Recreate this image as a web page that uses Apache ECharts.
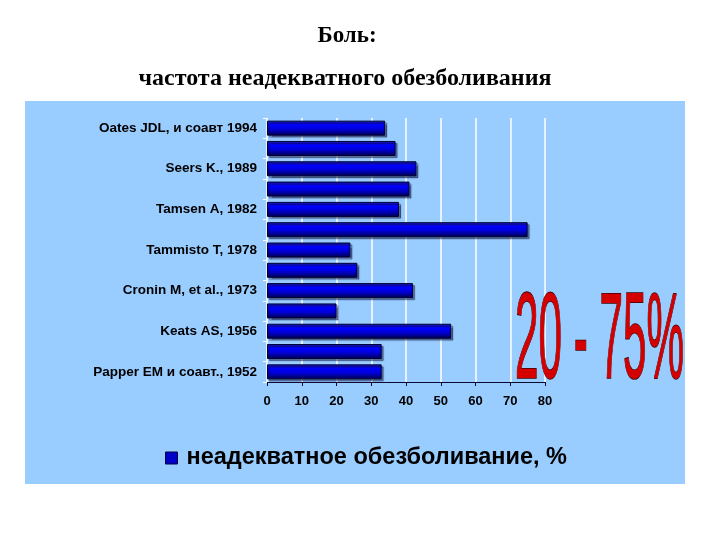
<!DOCTYPE html>
<html><head><meta charset="utf-8">
<script src="https://cdn.jsdelivr.net/npm/echarts@6/dist/echarts.min.js"></script>
<style>html,body{margin:0;padding:0;background:#fff}#c{width:720px;height:540px}</style>
</head><body><div id="c"></div>
<script>
var titleLine1 = 'Боль:';
var titleLine2 = 'частота неадекватного обезболивания';
var seriesName = 'неадекватное обезболивание, %';
var categories = ['Oates JDL, и соавт 1994', '', 'Seers K., 1989', '', 'Tamsen A, 1982', '', 'Tammisto T, 1978', '', 'Cronin M, et al., 1973', '', 'Keats AS, 1956', '', 'Papper EM и соавт., 1952'];
var values = [34, 37, 43, 41, 38, 75, 24, 26, 42, 20, 53, 33, 33];
var xTicks = [0, 10, 20, 30, 40, 50, 60, 70, 80];
var rangeText = '20 - 75%';

var chart = echarts.init(document.getElementById('c'), null, {renderer: 'canvas'});
var barGrad = new echarts.graphic.LinearGradient(0, 0, 0, 1, [
  {offset: 0, color: '#1a1aa8'},
  {offset: 0.3, color: '#0000ff'},
  {offset: 0.6, color: '#0000d0'},
  {offset: 1, color: '#000048'}
]);
chart.setOption({
  backgroundColor: '#ffffff',
  animation: false,
  graphic: [
    {type: 'rect', z: -10, silent: true, shape: {x: 25, y: 101, width: 660, height: 383}, style: {fill: '#99ccff'}},
    {type: 'text', z: 10, x: 347, y: 36, style: {text: titleLine1, font: 'bold 23px "Liberation Serif"', fill: '#000', align: 'center', verticalAlign: 'middle'}},
    {type: 'text', z: 10, x: 345, y: 79, style: {text: titleLine2, font: 'bold 24px "Liberation Serif"', fill: '#000', align: 'center', verticalAlign: 'middle'}},
    {type: 'text', z: 20, x: 515, y: 344, scaleX: 0.66, scaleY: 1.9,
      style: {text: rangeText, font: '64px "Liberation Sans"', align: 'left', verticalAlign: 'middle',
        fill: '#d40000', stroke: '#3a0000', lineWidth: 0.8}}
  ],
  legend: {
    left: 160, top: 441,
    icon: 'rect', itemWidth: 12, itemHeight: 12,
    textStyle: {fontFamily: '"Liberation Sans"', fontWeight: 'bold', fontSize: 23.5, color: '#000', padding: [0, 0, 0, 4]},
    data: [{name: seriesName, itemStyle: {color: '#0000c8', borderColor: '#000040', borderWidth: 1}}]
  },
  grid: {left: 267, right: 175, top: 118, bottom: 158, containLabel: false},
  xAxis: {
    type: 'value', min: xTicks[0], max: xTicks[xTicks.length - 1], interval: 10,
    axisLine: {show: true, lineStyle: {color: '#0a0a30', width: 1}},
    axisTick: {show: true, length: 4, lineStyle: {color: '#0a0a30'}},
    axisLabel: {fontFamily: '"Liberation Sans"', fontWeight: 'bold', fontSize: 13, color: '#000', margin: 13},
    splitLine: {show: true, lineStyle: {color: '#ffffff', width: 1.5}}
  },
  yAxis: {
    type: 'category', inverse: true, data: categories,
    axisLine: {show: true, lineStyle: {color: '#e8f2ff', width: 1}},
    axisTick: {show: true, length: 4, lineStyle: {color: '#ffffff'}},
    axisLabel: {interval: 0, fontFamily: '"Liberation Sans"', fontWeight: 'bold', fontSize: 13.5, color: '#000', margin: 10}
  },
  series: [{
    name: seriesName, type: 'bar', data: values, barWidth: 15,
    itemStyle: {color: barGrad, borderColor: '#000030', borderWidth: 1,
      shadowColor: 'rgba(0,0,40,0.45)', shadowOffsetX: 2, shadowOffsetY: 2, shadowBlur: 1}
  }]
});
</script></body></html>
